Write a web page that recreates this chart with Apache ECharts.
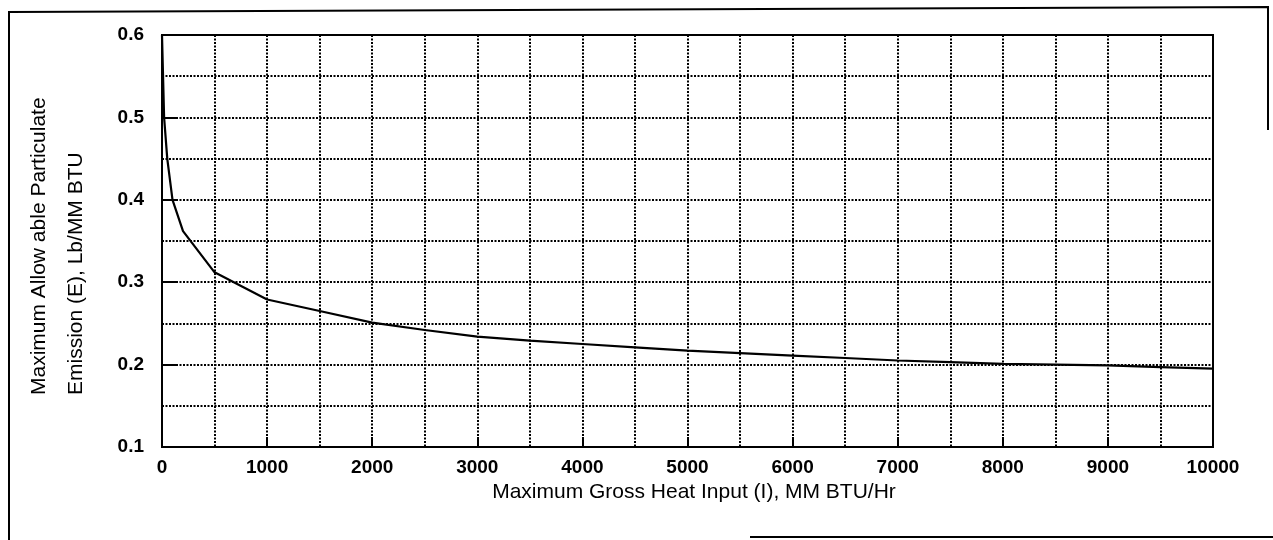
<!DOCTYPE html>
<html>
<head>
<meta charset="utf-8">
<script src="https://cdn.jsdelivr.net/npm/echarts@6/dist/echarts.min.js"></script>
<style>
html,body{margin:0;padding:0;background:#fff;}
#chart{width:1273px;height:540px;}
</style>
</head>
<body>
<div id="chart"></div>
<script>
// Maximum Gross Heat Input (I), MM BTU/Hr
const heatInput = [0, 20, 50, 100, 200, 500, 1000, 1500, 2000, 2500, 3000, 3500, 4000, 4500, 5000, 5500, 6000, 6500, 7000, 7500, 8000, 8500, 9000, 9500, 10000];
// Maximum Allowable Particulate Emission (E), Lb/MM BTU
const emission = [0.6, 0.5, 0.45, 0.40, 0.362, 0.312, 0.279, 0.265, 0.251, 0.242, 0.234, 0.229, 0.225, 0.221, 0.217, 0.214, 0.211, 0.208, 0.205, 0.203, 0.201, 0.200, 0.199, 0.197, 0.195];

const xTitle = 'Maximum Gross Heat Input (I), MM BTU/Hr';
const yTitleLine1 = 'Maximum Allow able Particulate';
const yTitleLine2 = 'Emission (E), Lb/MM BTU';

const FONT = '"Liberation Sans", Arial, Helvetica, sans-serif';
const dotted = { color: '#000', width: 2, type: [2, 1.5] };

const chart = echarts.init(document.getElementById('chart'), null, { renderer: 'canvas' });
chart.setOption({
  backgroundColor: '#fff',
  animation: false,
  grid: { left: 162, right: 60, top: 35, bottom: 93, show: true, borderColor: '#000', borderWidth: 2, backgroundColor: 'transparent' },
  xAxis: {
    type: 'value', min: 0, max: 10000, interval: 1000,
    axisLine: { show: true, lineStyle: { color: '#000', width: 2 } },
    axisTick: { show: true, inside: true, length: 10, lineStyle: { color: '#000', width: 2 } },
    axisLabel: { color: '#000', fontFamily: FONT, fontWeight: 'bold', fontSize: 19, margin: 11,
      formatter: v => String(v) },
    splitLine: { show: true, lineStyle: dotted },
    minorTick: { show: false, splitNumber: 2 },
    minorSplitLine: { show: true, lineStyle: dotted }
  },
  yAxis: {
    type: 'value', min: 0.1, max: 0.6, interval: 0.1,
    axisLine: { show: true, lineStyle: { color: '#000', width: 2 } },
    axisTick: { show: true, inside: true, length: 16, lineStyle: { color: '#000', width: 2 } },
    axisLabel: { color: '#000', fontFamily: FONT, fontWeight: 'bold', fontSize: 19, margin: 18,
      formatter: v => v.toFixed(1) },
    splitLine: { show: true, lineStyle: dotted },
    minorTick: { show: false, splitNumber: 2 },
    minorSplitLine: { show: true, lineStyle: dotted }
  },
  series: [{
    type: 'line',
    data: heatInput.map((x, i) => [x, emission[i]]),
    showSymbol: false,
    smooth: false,
    lineStyle: { color: '#000', width: 2.2 },
    z: 5
  }],
  graphic: [
    { type: 'polyline', shape: { points: [[9, 540], [9, 12], [1268, 7], [1268, 130]] }, style: { stroke: '#000', lineWidth: 2, fill: null } },
    { type: 'line', shape: { x1: 750, y1: 537, x2: 1273, y2: 537 }, style: { stroke: '#000', lineWidth: 2 } },
    { type: 'text', x: 694, y: 492, style: { text: xTitle, font: '21px ' + FONT, fill: '#000', textAlign: 'center', textVerticalAlign: 'middle' } },
    { type: 'text', x: 39, y: 395, rotation: Math.PI / 2, style: { text: yTitleLine1, font: '21px ' + FONT, fill: '#000', textAlign: 'left', textVerticalAlign: 'middle' } },
    { type: 'text', x: 76, y: 395, rotation: Math.PI / 2, style: { text: yTitleLine2, font: '21px ' + FONT, fill: '#000', textAlign: 'left', textVerticalAlign: 'middle' } }
  ]
});
</script>
</body>
</html>
